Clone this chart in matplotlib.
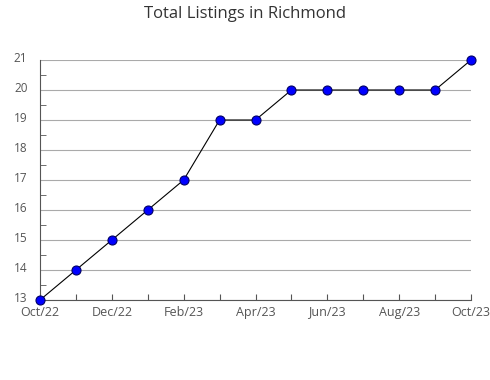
import matplotlib
matplotlib.use("Agg")
import matplotlib.pyplot as plt
import matplotlib.transforms as mtransforms
from matplotlib.ticker import MultipleLocator

months = ["Oct/22", "Nov/22", "Dec/22", "Jan/23", "Feb/23", "Mar/23", "Apr/23",
          "May/23", "Jun/23", "Jul/23", "Aug/23", "Sep/23", "Oct/23"]
listings = [13, 14, 15, 16, 17, 19, 19, 20, 20, 20, 20, 20, 21]

plt.rcParams["font.family"] = ["Open Sans", "DejaVu Sans"]

fig = plt.figure(figsize=(4.9, 3.8), dpi=100)
ax = fig.add_axes([40 / 490, 1 - 300 / 380, 431 / 490, 240 / 380])

x = list(range(len(months)))
ax.plot(x, listings, color="black", linewidth=0.8, marker="o", markersize=6.5,
        markerfacecolor="#0000ff", markeredgecolor="#000066", markeredgewidth=0.8, zorder=3,
        clip_on=False)

ax.set_xlim(0, len(months) - 1)
ax.set_ylim(13, 21)
ax.set_xticks(x)
ax.set_xticklabels([m if i % 2 == 0 else "" for i, m in enumerate(months)])
ax.yaxis.set_major_locator(MultipleLocator(1))
ax.yaxis.set_minor_locator(MultipleLocator(0.5))

ax.grid(axis="y", color="#aaaaaa", linewidth=0.8)
ax.set_axisbelow(True)
for s in ["top", "right"]:
    ax.spines[s].set_visible(False)
for s in ["left", "bottom"]:
    ax.spines[s].set_color("#555555")
    ax.spines[s].set_linewidth(0.8)

ax.tick_params(axis="x", direction="in", length=4, color="#555555", labelcolor="#555555",
               labelsize=9, pad=4)
ax.tick_params(axis="y", which="major", length=0, labelcolor="#555555", labelsize=8.5, pad=9)
ax.tick_params(axis="y", which="minor", direction="in", length=4, color="#555555")

# nudge y labels up a little so "13" clears "Oct/22"
shift = mtransforms.ScaledTranslation(0, 2.5 / 100, fig.dpi_scale_trans)
for lbl in ax.get_yticklabels():
    lbl.set_transform(lbl.get_transform() + shift)

fig.text(0.5, 1 - 14 / 380, "Total Listings in Richmond", ha="center", va="center",
         fontsize=12, color="#333333")

fig.savefig("out.png", dpi=100)
